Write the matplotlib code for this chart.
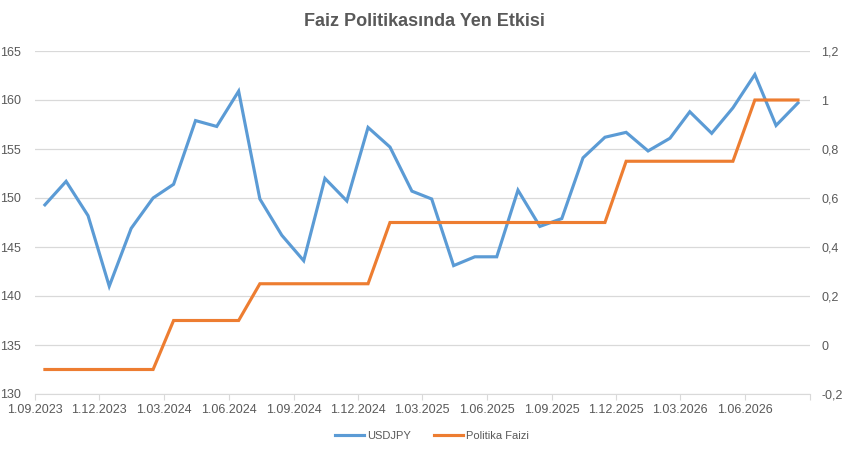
import matplotlib
matplotlib.use("Agg")
from matplotlib import pyplot as plt
import matplotlib.dates as mdates
from matplotlib.ticker import FuncFormatter, MultipleLocator
import pandas as pd

plt.rcParams['font.family'] = ['Liberation Sans', 'DejaVu Sans']

# monthly points, mid-month, Sep 2023 .. Aug 2026
dates = pd.date_range("2023-09-01", periods=36, freq="MS") + pd.Timedelta(days=14)

usdjpy = [149.3, 151.7, 148.2, 141.0, 146.9, 150.0, 151.4, 157.9, 157.3, 160.9,
          149.9, 146.2, 143.6, 152.0, 149.7, 157.2, 155.2, 150.7, 149.9, 143.1,
          144.0, 144.0, 150.8, 147.1, 147.9, 154.1, 156.2, 156.7, 154.8, 156.1,
          158.8, 156.6, 159.2, 162.6, 157.4, 159.7]

politika_faizi = [-0.1, -0.1, -0.1, -0.1, -0.1, -0.1, 0.1, 0.1, 0.1, 0.1,
                  0.25, 0.25, 0.25, 0.25, 0.25, 0.25, 0.5, 0.5, 0.5, 0.5,
                  0.5, 0.5, 0.5, 0.5, 0.5, 0.5, 0.5, 0.75, 0.75, 0.75,
                  0.75, 0.75, 0.75, 1.0, 1.0, 1.0]

blue = "#5B9BD5"
orange = "#ED7D31"
grey_txt = "#595959"
grid_col = "#D9D9D9"

x_end = pd.Timestamp("2026-09-01")


def date_label(v, p):
    d = mdates.num2date(v)
    if d.year == x_end.year and d.month == x_end.month:
        return ""
    return "{0}.{1:02d}.{2}".format(d.day, d.month, d.year)


fig = plt.figure(figsize=(8.48, 4.51), dpi=100)
ax = fig.add_axes([35/848, 1-394/451, (810-35)/848, (394-51)/451])
ax2 = ax.twinx()

l1, = ax.plot(dates, usdjpy, color=blue, lw=2.25, label="USDJPY", solid_joinstyle="miter")
l2, = ax2.plot(dates, politika_faizi, color=orange, lw=2.25, label="Politika Faizi", solid_joinstyle="miter")

ax.set_ylim(130, 165)
ax.yaxis.set_major_locator(MultipleLocator(5))
ax2.set_ylim(-0.2, 1.2)
ax2.yaxis.set_major_locator(MultipleLocator(0.2))
ax2.yaxis.set_major_formatter(FuncFormatter(lambda v, p: f"{round(v, 1):g}".replace(".", ",")))

ax.set_xlim(pd.Timestamp("2023-09-01"), x_end)
ax.xaxis.set_major_locator(mdates.MonthLocator(bymonth=[3, 6, 9, 12], bymonthday=1))
ax.xaxis.set_major_formatter(FuncFormatter(date_label))

ax.grid(axis="y", color=grid_col, lw=0.9)
ax.set_axisbelow(True)
for a in (ax, ax2):
    for s in ("top", "left", "right"):
        a.spines[s].set_visible(False)
    a.spines["bottom"].set_color(grid_col)
ax2.spines["bottom"].set_visible(False)

ax.tick_params(axis="x", colors=grey_txt, labelsize=9, length=4, color=grid_col, pad=3)
ax.tick_params(axis="y", colors=grey_txt, labelsize=9, length=0, pad=10)
ax2.tick_params(axis="y", colors=grey_txt, labelsize=9, length=0, pad=8)

fig.text(0.5, 1-22/451, "Faiz Politikasında Yen Etkisi", ha="center", va="center",
         fontsize=13, fontweight="bold", color=grey_txt)

fig.legend(handles=[l1, l2], loc="center", bbox_to_anchor=(432/848, 1-436/451), ncol=2,
           frameon=False, fontsize=8, labelcolor=grey_txt, handlelength=2.6,
           handletextpad=0.3, columnspacing=2.0)

fig.savefig("out.png", dpi=100)
